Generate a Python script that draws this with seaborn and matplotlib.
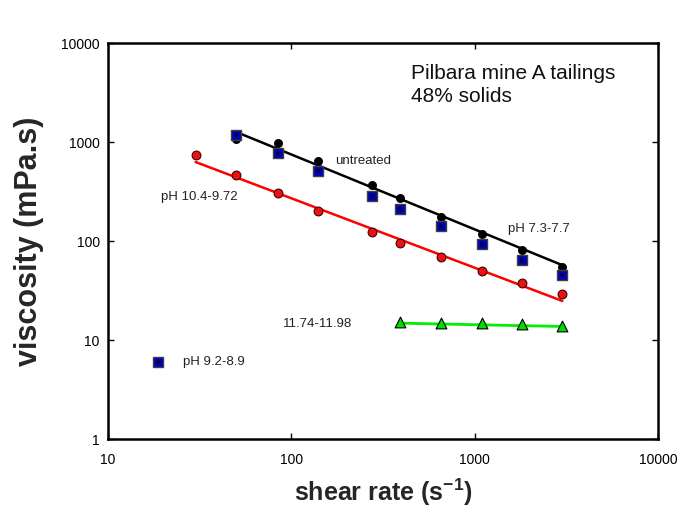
import numpy as np
import pandas as pd
import matplotlib
matplotlib.use("Agg")
import matplotlib.pyplot as plt
import seaborn as sns

# Shear rates (1/s)
shear_main = [50, 84, 140, 275, 390, 650, 1090, 1800, 3000]
shear_red = [30, 50, 84, 140, 275, 390, 650, 1090, 1800, 3000]
shear_green = [390, 650, 1090, 1800, 3000]

# Viscosity (mPa.s)
visc_untreated = [1080, 977, 643, 368, 272, 175, 118, 81, 55]
visc_ph92 = [1177, 774, 510, 285, 213, 142, 93, 64, 45]
visc_ph104 = [739, 464, 305, 201, 123, 95, 69, 50, 38, 29]
visc_ph117 = [15.2, 15.0, 14.7, 14.4, 14.0]

# Power-law fit lines (end points)
fit_black_x = [50, 3000]
fit_black_y = [1262, 57]
fit_red_x = [30, 3000]
fit_red_y = [628, 24.8]
fit_green_x = [390, 3000]
fit_green_y = [14.8, 13.7]

# Legend-style marker for the pH 9.2-8.9 series
key_x = [18.7]
key_y = [6.0]

sns.set_style("ticks")
plt.rcParams["font.family"] = ["Liberation Sans", "DejaVu Sans"]
plt.rcParams["mathtext.fontset"] = "custom"
plt.rcParams["mathtext.bf"] = "Liberation Sans:bold"

fig = plt.figure(figsize=(6.8, 5.09), dpi=100)
ax = fig.add_axes([0.159, 0.1375, 0.809, 0.778])

df_black = pd.DataFrame({"x": shear_main, "y": visc_untreated})
df_blue = pd.DataFrame({"x": shear_main, "y": visc_ph92})
df_red = pd.DataFrame({"x": shear_red, "y": visc_ph104})
df_green = pd.DataFrame({"x": shear_green, "y": visc_ph117})

sns.lineplot(x=fit_black_x, y=fit_black_y, ax=ax, color="black", lw=1.8, zorder=2)
sns.lineplot(x=fit_red_x, y=fit_red_y, ax=ax, color="#ff0000", lw=1.8, zorder=2)
sns.lineplot(x=fit_green_x, y=fit_green_y, ax=ax, color="#00ee00", lw=2.0, zorder=2)

sns.scatterplot(data=df_black, x="x", y="y", ax=ax, marker="o", s=34,
                color="black", edgecolor="black", linewidth=0.6, zorder=3)
sns.scatterplot(data=df_blue, x="x", y="y", ax=ax, marker="s", s=48,
                color="#0000b4", edgecolor="#404040", linewidth=1.0, zorder=4)
sns.scatterplot(data=df_blue, x="x", y="y", ax=ax, marker="o", s=5,
                color="black", edgecolor="none", zorder=5)
sns.scatterplot(data=df_red, x="x", y="y", ax=ax, marker="o", s=40,
                color="#ee1111", edgecolor="#400000", linewidth=0.8, zorder=3)
sns.scatterplot(data=df_green, x="x", y="y", ax=ax, marker="^", s=60,
                color="#00dd00", edgecolor="black", linewidth=0.8, zorder=3)
sns.scatterplot(x=key_x, y=key_y, ax=ax, marker="s", s=48,
                color="#0000b4", edgecolor="#404040", linewidth=1.0, zorder=4)
sns.scatterplot(x=key_x, y=key_y, ax=ax, marker="o", s=5,
                color="black", edgecolor="none", zorder=5)

ax.set_xscale("log")
ax.set_yscale("log")
ax.set_xlim(10, 10000)
ax.set_ylim(1, 10000)

xt = [10, 100, 1000, 10000]
yt = [1, 10, 100, 1000, 10000]
ax.set_xticks(xt)
ax.set_xticklabels([str(v) for v in xt])
ax.set_yticks(yt)
ax.set_yticklabels([str(v) for v in yt])
ax.minorticks_off()
ax.tick_params(which="major", direction="in", length=4, width=1.0,
               top=True, right=True, labelsize=10, colors="black")
ax.tick_params(axis="x", pad=10)
ax.tick_params(axis="y", pad=6)

for sp in ax.spines.values():
    sp.set_visible(True)
    sp.set_linewidth(1.8)
    sp.set_color("black")

ax.set_xlabel("shear rate (s$^{\\mathbf{-1}}$)", fontsize=18, fontweight="bold", labelpad=7)
ax.set_ylabel("viscosity (mPa.s)", fontsize=22, fontweight="bold", labelpad=12)

txt = dict(fontsize=9.5, color="#222222", va="center", ha="left")
ax.text(173, 640, "untreated", **txt)
ax.text(19.5, 278, "pH 10.4-9.72", **txt)
ax.text(1520, 132, "pH 7.3-7.7", **txt)
ax.text(90, 14.5, "11.74-11.98", **txt)
ax.text(25.6, 6.0, "pH 9.2-8.9", **txt)
ax.text(0.551, 0.948, "Pilbara mine A tailings\n48% solids", transform=ax.transAxes,
        fontsize=15, color="#111111", ha="left", va="top", linespacing=1.3)

fig.savefig("out.png", dpi=100)
